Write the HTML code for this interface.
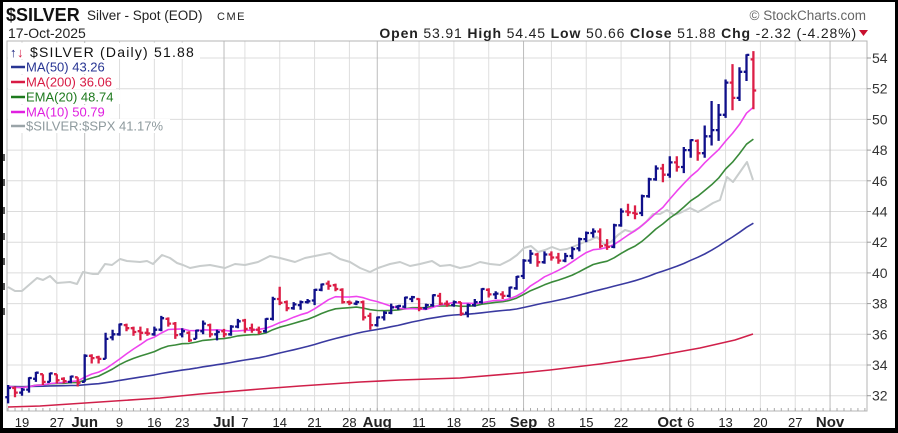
<!DOCTYPE html>
<html><head><meta charset="utf-8">
<style>
html,body{margin:0;padding:0;background:#000;}
body{width:898px;height:433px;overflow:hidden;position:relative;font-family:"Liberation Sans",sans-serif;}
#panel{position:absolute;left:3px;top:2px;width:892px;height:426px;background:#fff;}
svg{position:absolute;left:0;top:0;}
</style></head><body>
<div id="panel"></div>
<svg id="c" width="898" height="433" viewBox="0 0 898 433" font-family="Liberation Sans, sans-serif">
<g id="grid"></g>
<rect x="7" y="41" width="860" height="370" fill="none" stroke="#b4b4b4" stroke-width="1"/>
<g id="ticks"></g>
<g id="lines"></g>
<g id="bars"></g>
<!-- legend -->
<g>
<rect x="8" y="43" width="192" height="16" fill="#fff"/>
<rect x="8" y="60" width="102" height="14" fill="#fff"/>
<rect x="8" y="75" width="108" height="14" fill="#fff"/>
<rect x="8" y="90" width="112" height="14" fill="#fff"/>
<rect x="8" y="105" width="102" height="14" fill="#fff"/>
<rect x="8" y="119" width="162" height="14" fill="#fff"/>
<text x="10" y="57" font-size="13" font-weight="bold" fill="#1a237e">↑</text>
<text x="17" y="57" font-size="13" font-weight="bold" fill="#d81b45">↓</text>
<text x="30" y="57" font-size="14" letter-spacing="1.2" fill="#111">$SILVER (Daily) 51.88</text>
<line x1="11" y1="67" x2="25" y2="67" stroke="#283593" stroke-width="2.5"/>
<text x="26" y="71.7" font-size="13" fill="#283593">MA(50) 43.26</text>
<line x1="11" y1="82" x2="25" y2="82" stroke="#d81b45" stroke-width="2.5"/>
<text x="26" y="86.7" font-size="13" fill="#d81b45">MA(200) 36.06</text>
<line x1="11" y1="97" x2="25" y2="97" stroke="#1e7a1e" stroke-width="2.5"/>
<text x="26" y="101.7" font-size="13" fill="#1e7a1e">EMA(20) 48.74</text>
<line x1="11" y1="112" x2="25" y2="112" stroke="#e020e0" stroke-width="2.5"/>
<text x="26" y="116.7" font-size="13" fill="#e020e0">MA(10) 50.79</text>
<line x1="11" y1="126" x2="25" y2="126" stroke="#9aa4a8" stroke-width="2.5"/>
<text x="26" y="130.7" font-size="13" fill="#8e9a9e">$SILVER:$SPX 41.17%</text>
</g>
<g id="axis" fill="#222"></g>
<!-- header -->
<text x="6" y="21" font-size="18" font-weight="bold" fill="#111">$SILVER</text>
<text x="87" y="20" font-size="13.5" fill="#222">Silver - Spot (EOD)</text>
<text x="217" y="20" font-size="11" letter-spacing="1.5" fill="#222">CME</text>
<text x="8" y="38" font-size="14" fill="#222">17-Oct-2025</text>
<text x="866" y="20" text-anchor="end" font-size="13.5" fill="#666">© StockCharts.com</text>
<text x="857" y="38" text-anchor="end" font-size="14" letter-spacing="0.85" fill="#222"><tspan font-weight="bold">Open</tspan> 53.91  <tspan font-weight="bold">High</tspan> 54.45  <tspan font-weight="bold">Low</tspan> 50.66  <tspan font-weight="bold">Close</tspan> 51.88  <tspan font-weight="bold">Chg</tspan> -2.32 (-4.28%)</text>
<polygon points="859,30 868,30 863.5,36" fill="#c8102e"/>
<g fill="#555">
<rect x="3" y="154" width="2" height="7"/><rect x="3" y="179" width="2" height="7"/><rect x="3" y="207" width="2" height="7"/><rect x="3" y="233" width="2" height="7"/><rect x="3" y="258" width="2" height="7"/><rect x="3" y="283" width="2" height="7"/><rect x="3" y="308" width="2" height="7"/>
</g>
</svg>
<script>
(function(){
var NS="http://www.w3.org/2000/svg";
function el(tag,attrs,parent,txt){var e=document.createElementNS(NS,tag);for(var k in attrs)e.setAttribute(k,attrs[k]);if(txt!==undefined)e.textContent=txt;parent.appendChild(e);return e;}
var X=function(i){return 22+6.966*i;};
var Y=function(v){return 58+(54-v)*15.35;};
var D=[
[31.9,32.7,31.5,32.5],[32.5,32.6,31.9,32.2],
[32.2,32.5,32.0,32.4],[32.4,33.2,32.2,33.15],[33.1,33.55,32.9,33.5],[33.4,33.4,32.7,32.9],[32.9,33.5,32.9,33.45],
[33.4,33.4,32.8,33.0],[33.1,33.2,32.8,32.95],[32.9,33.3,32.8,33.25],[33.2,33.2,32.6,32.85],
[32.9,34.7,32.9,34.6],[34.6,34.7,34.1,34.45],[34.5,34.6,34.1,34.4],[34.4,36.1,34.4,35.7],[35.8,36.3,35.6,36.0],
[36.0,36.7,35.9,36.65],[36.6,36.7,36.2,36.4],[36.4,36.5,35.9,36.15],[36.2,36.5,35.6,36.1],[36.1,36.4,35.9,36.05],
[36.0,36.5,35.9,36.3],[36.3,37.2,36.2,37.05],[37.0,37.1,36.5,36.7],[36.7,36.8,35.7,35.95],
[36.0,36.4,35.8,36.2],[36.1,36.2,35.5,35.6],[35.7,36.3,35.7,36.25],[36.2,36.9,36.0,36.7],[36.6,36.7,35.8,36.0],
[36.0,36.3,35.6,36.15],[36.2,36.35,35.8,36.0],[36.0,36.6,35.9,36.5],[36.5,37.0,36.4,36.85],
[36.9,37.0,36.1,36.35],[36.4,36.7,36.1,36.3],[36.3,36.5,36.0,36.15],[36.2,37.05,36.1,37.0],[37.0,38.45,36.9,38.3],
[38.3,39.1,37.9,38.05],[38.1,38.2,37.5,37.7],[37.7,38.1,37.6,37.95],[37.9,38.2,37.6,38.1],[38.1,38.3,38.0,38.15],
[38.2,38.95,37.9,38.9],[38.9,39.3,38.8,39.25],[39.3,39.5,38.9,39.15],[39.2,39.3,38.8,38.95],[38.9,39.0,38.0,38.1],
[38.1,38.2,37.9,38.05],[38.0,38.2,37.9,38.1],[38.1,38.2,36.9,37.1],[37.2,37.4,36.3,36.6],[36.6,37.15,36.5,37.1],
[37.1,37.5,36.9,37.4],[37.4,38.0,37.3,37.75],[37.8,37.9,37.6,37.85],[37.8,38.45,37.7,38.4],[38.3,38.5,38.1,38.42],
[38.3,38.35,37.5,37.7],[37.7,38.0,37.6,37.9],[37.9,38.6,37.8,38.55],[38.5,38.7,37.9,38.0],[38.0,38.2,37.8,37.95],
[37.9,38.2,37.8,38.1],[38.1,38.1,37.2,37.35],[37.4,38.0,37.1,37.9],[37.9,38.3,37.8,38.1],[38.1,39.0,38.0,38.95],
[38.9,39.0,38.4,38.6],[38.6,38.8,38.3,38.65],[38.6,38.8,38.3,38.5],[38.5,39.1,38.4,39.05],[39.0,39.8,38.9,39.75],
[39.8,40.9,39.6,40.8],[40.8,41.5,40.6,41.25],[41.2,41.3,40.4,40.7],[40.7,41.4,40.6,41.2],
[41.2,41.4,40.8,41.0],[41.0,41.3,40.6,40.8],[40.8,41.3,40.7,41.1],[41.1,41.7,40.9,41.55],[41.6,42.3,41.4,42.2],
[42.2,42.7,42.0,42.6],[42.6,42.9,42.3,42.7],[42.7,42.9,41.6,41.75],[41.8,42.2,41.5,41.7],[41.7,43.2,41.6,43.1],
[43.1,44.2,43.0,44.0],[44.0,44.5,43.7,43.95],[43.9,44.4,43.5,43.85],[43.9,45.1,43.7,45.0],[45.0,46.2,44.9,46.1],
[46.1,47.0,46.0,46.8],[46.8,47.1,45.9,46.4],[46.4,47.6,46.2,47.2],[47.2,47.6,46.6,46.9],[46.9,48.2,46.5,48.0],
[48.0,48.7,47.5,48.65],[48.6,48.7,47.3,47.8],[47.8,49.6,47.5,48.9],[48.9,51.2,48.3,49.3],[49.3,51.0,48.6,50.3],
[50.3,52.6,50.1,52.4],[52.4,53.6,50.6,51.4],[51.4,53.4,51.2,53.1],[53.1,54.25,52.5,54.2],[53.91,54.45,50.66,51.88]
];
var grid=document.getElementById('grid');
for(var v=32;v<=54;v+=2){el('line',{x1:7,x2:867,y1:Y(v),y2:Y(v),stroke:'#dcdcdc','stroke-width':1},grid);}
var wk=[0,5,9,14,19,23,29,32,37,42,47,51,57,62,67,72,76,81,86,93,96,101,106,111,116];
var mon={9:1,29:1,51:1,72:1,93:1,116:1};
wk.forEach(function(i){el('line',{x1:X(i),x2:X(i),y1:41,y2:411,stroke:mon[i]?'#bcbcbc':'#dedede','stroke-width':1},grid);});
var tk=document.getElementById('ticks');
for(var i=-2;i<=121;i++){el('line',{x1:X(i),x2:X(i),y1:408,y2:411,stroke:'#aaa','stroke-width':1},tk);}
var ax=document.getElementById('axis');
for(var v=32;v<=54;v+=2){
 el('line',{x1:867,x2:871,y1:Y(v),y2:Y(v),stroke:'#999','stroke-width':1},tk);
 el('text',{x:872,y:Y(v)+5,'font-size':14,fill:'#333'},ax,String(v));
}
var labs=[[0,'19'],[5,'27'],[9,'Jun',1],[14,'9'],[19,'16'],[23,'23'],[29,'Jul',1],[32,'7'],[37,'14'],[42,'21'],[47,'28'],[51,'Aug',1],[57,'11'],[62,'18'],[67,'25'],[72,'Sep',1],[76,'8'],[81,'15'],[86,'22'],[93,'Oct',1],[96,'6'],[101,'13'],[106,'20'],[111,'27'],[116,'Nov',1]];
labs.forEach(function(L){
 var a={x:X(L[0]),y:427,'text-anchor':'middle','font-size':L[2]?15:13,fill:'#222'};
 if(L[2])a['font-weight']='bold';
 el('text',a,ax,L[1]);
});
var lines=document.getElementById('lines');
function poly(pts,color,w){el('polyline',{points:pts.map(function(p){return p[0].toFixed(1)+','+p[1].toFixed(1);}).join(' '),fill:'none',stroke:color,'stroke-width':w,'stroke-linejoin':'round'},lines);}
var ratio=[[8,287],[15,291],[22,291],[37,278],[43,280],[50,276],[57,283],[70,282],[77,284],[83,272],[93,274],[98,274],[105,264],[112,265],[120,259],[127,261],[140,262],[147,261],[153,264],[162,255],[170,258],[177,263],[183,265],[190,268],[200,266],[210,265],[225,268],[235,264],[245,265],[258,262],[270,256],[280,258],[295,262],[305,258],[320,255],[330,253],[340,259],[350,262],[360,268],[370,272],[378,268],[390,264],[400,262],[410,266],[420,264],[432,261],[440,266],[450,265],[460,268],[470,266],[480,262],[490,264],[500,265],[510,260],[517,255],[524,248],[531,246],[538,252],[545,250],[552,247],[560,250],[567,249],[575,246],[582,243],[590,240],[597,237],[604,244],[611,242],[618,235],[625,230],[632,232],[639,228],[646,222],[653,214],[660,214],[667,210],[674,215],[680,213],[690,208],[698,212],[705,208],[713,203],[720,200],[727,177],[733,182],[740,172],[747,162],[753,180]];
poly(ratio,'#c9cdcd',2);
var ma200=[[8,407],[40,406],[100,402],[160,398],[200,394],[260,389],[300,386],[360,382],[400,380],[460,378],[520,373],[550,370],[600,364],[650,357],[700,348],[735,340],[753,334]];
poly(ma200,'#d0204a',1.6);
var C=[];for(var k=0;k<200;k++)C.push(32.6);
var pre=C.length;
D.forEach(function(d){C.push(d[3]);});
function sma(n,idx){var s=0;for(var j=idx-n+1;j<=idx;j++)s+=C[j];return s/n;}
var m50=[],m10=[],e20=[];var ema=32.6,kk=2/21;
for(var j=0;j<pre;j++){ema=C[j]*kk+ema*(1-kk);}
for(var k=0;k<D.length;k++){
 var idx=pre+k, i=k-2, x=X(i);
 ema=C[idx]*kk+ema*(1-kk);
 m50.push([x,Y(sma(50,idx))]);
 m10.push([x,Y(sma(10,idx))]);
 e20.push([x,Y(ema)]);
}
poly(m50,'#3a3aa0',1.6);
poly(e20,'#3a8a3a',1.6);
poly(m10,'#ee44ee',1.6);
var bars=document.getElementById('bars');
var prev=32.1;
D.forEach(function(d,k){
 var i=k-2,x=X(i);
 var col=d[3]>=prev?'#10108a':'#dc1e46';
 prev=d[3];
 var p='M'+x.toFixed(1)+' '+Y(d[1]).toFixed(1)+'V'+Y(d[2]).toFixed(1)+
   'M'+(x-2.8).toFixed(1)+' '+Y(d[0]).toFixed(1)+'H'+x.toFixed(1)+
   'M'+x.toFixed(1)+' '+Y(d[3]).toFixed(1)+'H'+(x+2.8).toFixed(1);
 el('path',{d:p,stroke:col,'stroke-width':2.3,fill:'none'},bars);
});
})();
</script>
</body></html>
